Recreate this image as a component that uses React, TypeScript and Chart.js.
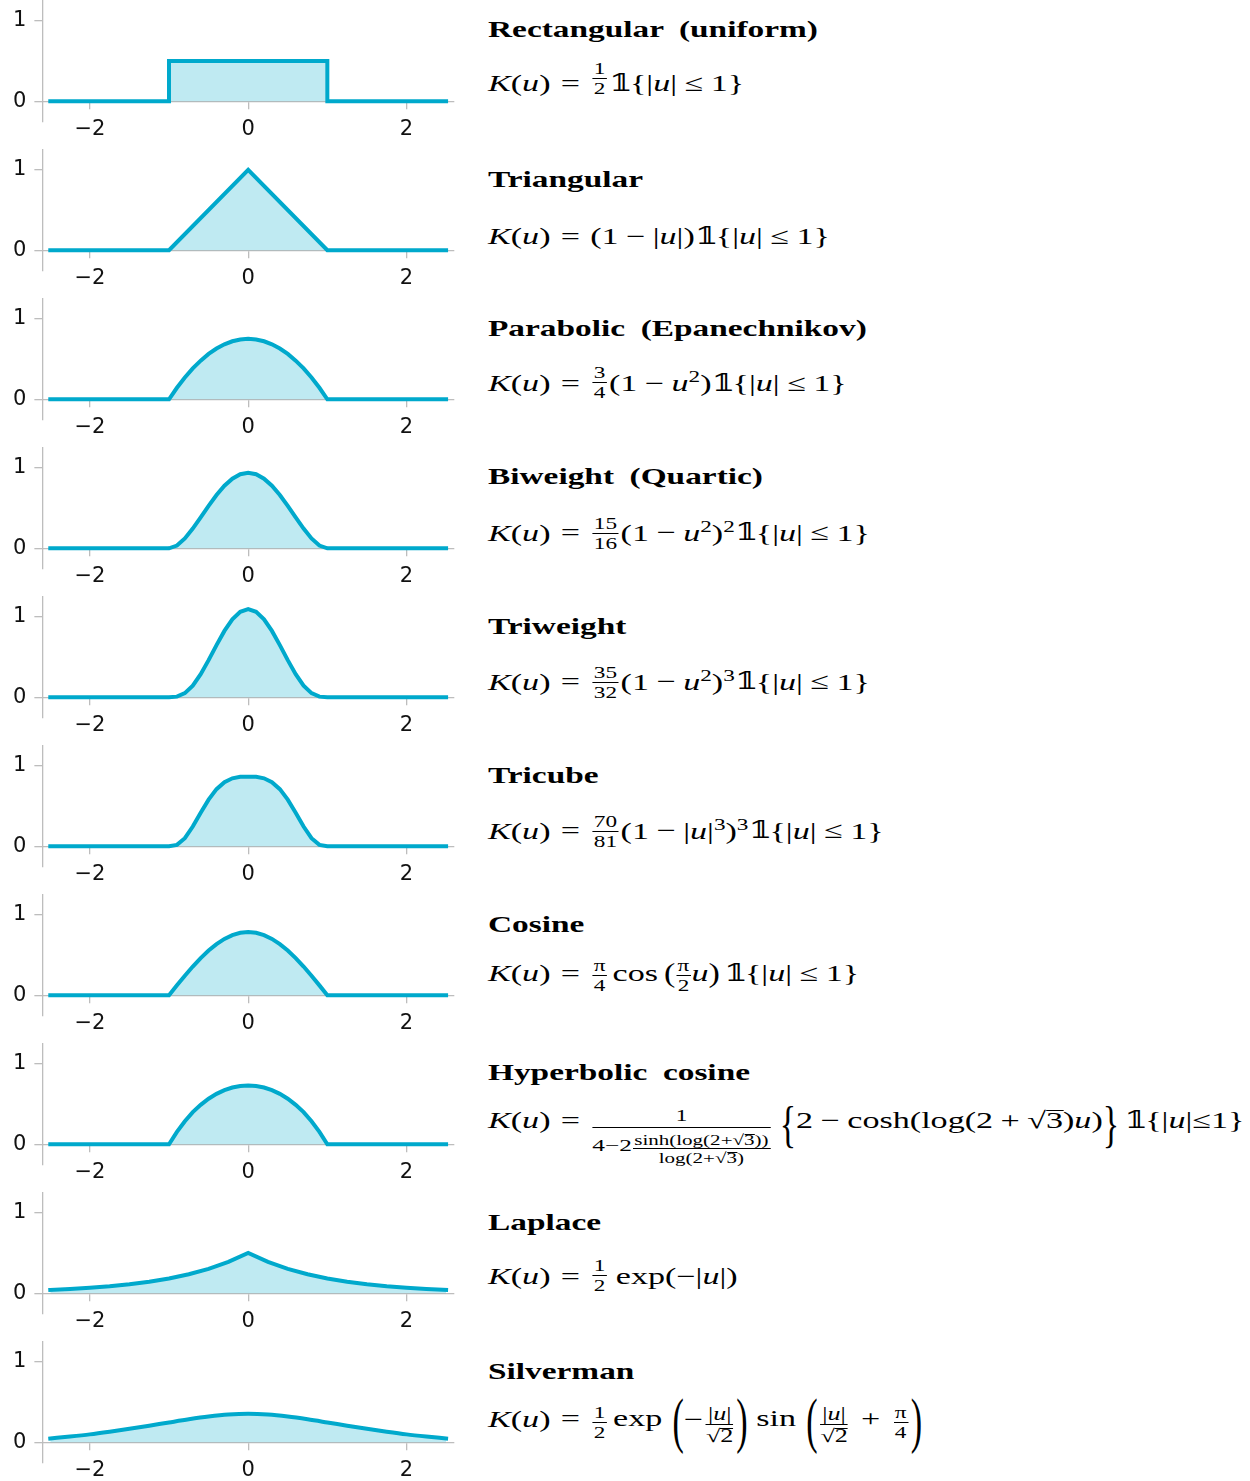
import React, { useEffect, useLayoutEffect, useRef } from "react";
import { Chart, registerables } from "chart.js";

Chart.register(...registerables);

// ---------------- data ----------------
const KERNEL_TITLES = [
  "Rectangular (uniform)",
  "Triangular",
  "Parabolic (Epanechnikov)",
  "Biweight (Quartic)",
  "Triweight",
  "Tricube",
  "Cosine",
  "Hyperbolic cosine",
  "Laplace",
  "Silverman",
];

const X_TICKS = [-2, 0, 2];
const Y_TICKS = [0, 1];
const X_MIN = -2.6;
const X_MAX = 2.6;
const Y_MIN = -0.25;
const Y_MAX = 1.25;

const RECT_U = [-2.5, -1, -1, 1, 1, 2.5];
const RECT_K = [0, 0, 0.5, 0.5, 0, 0];

const TRI_U = [-2.5, -1, 0, 1, 2.5];
const TRI_K = [0, 0, 1, 0, 0];

const COMPACT_U = [
  -2.5, -1, -0.9, -0.8, -0.7, -0.6, -0.5, -0.4, -0.3, -0.2, -0.1, 0, 0.1, 0.2, 0.3, 0.4, 0.5, 0.6, 0.7,
  0.8, 0.9, 1, 2.5,
];
const EPAN_K = [
  0, 0, 0.143, 0.27, 0.383, 0.48, 0.563, 0.63, 0.683, 0.72, 0.743, 0.75, 0.743, 0.72, 0.683, 0.63, 0.563,
  0.48, 0.383, 0.27, 0.143, 0, 0,
];
const BIWEIGHT_K = [
  0, 0, 0.034, 0.122, 0.244, 0.384, 0.527, 0.662, 0.776, 0.864, 0.919, 0.938, 0.919, 0.864, 0.776, 0.662,
  0.527, 0.384, 0.244, 0.122, 0.034, 0, 0,
];
const TRIWEIGHT_K = [
  0, 0, 0.008, 0.051, 0.145, 0.287, 0.461, 0.648, 0.824, 0.968, 1.061, 1.094, 1.061, 0.968, 0.824, 0.648,
  0.461, 0.287, 0.145, 0.051, 0.008, 0, 0,
];
const TRICUBE_K = [
  0, 0, 0.017, 0.1, 0.245, 0.417, 0.579, 0.709, 0.796, 0.844, 0.862, 0.864, 0.862, 0.844, 0.796, 0.709,
  0.579, 0.417, 0.245, 0.1, 0.017, 0, 0,
];
const COSINE_K = [
  0, 0, 0.123, 0.243, 0.357, 0.462, 0.555, 0.635, 0.7, 0.747, 0.776, 0.785, 0.776, 0.747, 0.7, 0.635, 0.555,
  0.462, 0.357, 0.243, 0.123, 0, 0,
];
const HYPCOSH_K = [
  0, 0, 0.154, 0.286, 0.399, 0.49, 0.566, 0.626, 0.672, 0.705, 0.724, 0.73, 0.724, 0.705, 0.672, 0.626,
  0.566, 0.49, 0.399, 0.286, 0.154, 0, 0,
];

const WIDE_U = [
  -2.5, -2.25, -2, -1.75, -1.5, -1.25, -1, -0.75, -0.5, -0.25, 0, 0.25, 0.5, 0.75, 1, 1.25, 1.5, 1.75, 2,
  2.25, 2.5,
];
const LAPLACE_K = [
  0.041, 0.053, 0.068, 0.087, 0.112, 0.143, 0.184, 0.236, 0.303, 0.389, 0.5, 0.389, 0.303, 0.236, 0.184,
  0.143, 0.112, 0.087, 0.068, 0.053, 0.041,
];
const SILVERMAN_K = [
  0.047, 0.071, 0.098, 0.131, 0.167, 0.206, 0.246, 0.285, 0.319, 0.344, 0.354, 0.344, 0.319, 0.285, 0.246,
  0.206, 0.167, 0.131, 0.098, 0.071, 0.047,
];

const PANEL_X = [RECT_U, TRI_U, COMPACT_U, COMPACT_U, COMPACT_U, COMPACT_U, COMPACT_U, COMPACT_U, WIDE_U, WIDE_U];
const PANEL_Y = [RECT_K, TRI_K, EPAN_K, BIWEIGHT_K, TRIWEIGHT_K, TRICUBE_K, COSINE_K, HYPCOSH_K, LAPLACE_K, SILVERMAN_K];
const PANEL_SMOOTH = [false, false, false, false, false, false, false, false, false, true];

// ---------------- layout / style ----------------
const LINE_COLOR = "#00a9cc";
const FILL_COLOR = "rgba(0, 170, 204, 0.25)";
const AXIS_COLOR = "#bdbdbd";
const AREA_LEFT = 42;
const AREA_W = 414;
const AREA_H = 121;
const FIRST_ZERO = 101;
const PANEL_STEP = 149;
const TEXT_LEFT = 488;
const TITLE_BASELINES = [36.5, 186.7, 335.7, 483.8, 633.7, 782.7, 931.7, 1080.3, 1229.7, 1378.7];
const FORMULA_BASELINES = [90.7, 244, 390.5, 540, 689, 838, 980.7, 1128.3, 1284, 1426];
const SERIF = '"Liberation Serif", "DejaVu Serif", "DejaVu Sans", serif';
const TEXT_SCALE = 1.45;
const MATH_SIZE = 23.5;
const SMALL = 16;

function KernelPlot({ index }: { index: number }) {
  const ref = useRef<HTMLCanvasElement>(null);
  useEffect(() => {
    const canvas = ref.current!;
    const xs = PANEL_X[index];
    const ys = PANEL_Y[index];
    const tickFont = { family: "DejaVu Sans", size: 21 };
    const chart = new Chart(canvas, {
      type: "line",
      data: {
        datasets: [
          {
            data: xs.map((x, i) => ({ x, y: ys[i] })),
            borderColor: LINE_COLOR,
            backgroundColor: FILL_COLOR,
            borderWidth: 4,
            fill: "origin",
            pointRadius: 0,
            tension: 0,
            cubicInterpolationMode: PANEL_SMOOTH[index] ? "monotone" : "default",
            borderCapStyle: "square",
            borderJoinStyle: "miter",
          },
        ],
      },
      options: {
        responsive: false,
        maintainAspectRatio: false,
        animation: false,
        events: [],
        layout: { padding: 0 },
        plugins: { legend: { display: false }, tooltip: { enabled: false } },
        scales: {
          x: {
            type: "linear",
            min: X_MIN,
            max: X_MAX,
            position: { y: 0 },
            grid: { drawOnChartArea: false, drawTicks: true, tickLength: 7, color: AXIS_COLOR, lineWidth: 1.3 },
            border: { display: true, color: AXIS_COLOR, width: 1.3 },
            ticks: {
              padding: 9,
              color: "#111",
              font: tickFont,
              maxRotation: 0,
              autoSkip: false,
              callback: (v: any) => (Number(v) < 0 ? "\u2212" : "") + Math.abs(Number(v)),
            },
            afterBuildTicks: (s: any) => {
              s.ticks = X_TICKS.map((v) => ({ value: v }));
            },
          },
          y: {
            type: "linear",
            min: Y_MIN,
            max: Y_MAX,
            position: "left",
            grid: { drawOnChartArea: false, drawTicks: true, tickLength: 8, color: AXIS_COLOR, lineWidth: 1.3 },
            border: { display: true, color: AXIS_COLOR, width: 1.3 },
            ticks: {
              padding: 8,
              color: "#111",
              font: tickFont,
              callback: (v: any) => String(v),
            },
            afterBuildTicks: (s: any) => {
              s.ticks = Y_TICKS.map((v) => ({ value: v }));
            },
          },
        },
      },
    } as any);
    const ca = chart.chartArea;
    const mL = ca.left;
    const mT = ca.top;
    const mR = chart.width - ca.right;
    const mB = chart.height - ca.bottom;
    chart.resize(Math.round(AREA_W + mL + mR), Math.round(AREA_H + mT + mB));
    const ca2 = chart.chartArea;
    const zero = FIRST_ZERO + PANEL_STEP * index;
    const areaTop = zero - (Y_MAX / (Y_MAX - Y_MIN)) * AREA_H;
    canvas.style.left = AREA_LEFT - ca2.left + "px";
    canvas.style.top = areaTop - ca2.top + "px";
    return () => chart.destroy();
  }, [index]);
  return <canvas ref={ref} width={520} height={200} style={{ position: "absolute", left: 0, top: 0 }} />;
}

function TextLine({ baseline, style, children }: any) {
  const ref = useRef<HTMLDivElement>(null);
  const mark = useRef<HTMLSpanElement>(null);
  useLayoutEffect(() => {
    const el = ref.current!;
    const mk = mark.current!;
    el.style.top = "0px";
    const off = mk.getBoundingClientRect().top - el.getBoundingClientRect().top;
    el.style.top = baseline - off + "px";
  }, [baseline]);
  return (
    <div
      ref={ref}
      style={{
        position: "absolute",
        left: TEXT_LEFT,
        top: 0,
        whiteSpace: "nowrap",
        transformOrigin: "0 0",
        transform: `scaleX(${TEXT_SCALE})`,
        color: "#000",
        fontFamily: SERIF,
        ...style,
      }}
    >
      <span ref={mark} style={{ display: "inline-block", width: 0, height: 0, verticalAlign: "baseline" }} />
      {children}
    </div>
  );
}

const I = ({ c }: any) => <i>{c}</i>;
const Op = ({ c, m = 0.22 }: any) => <span style={{ margin: `0 ${m}em` }}>{c}</span>;
const Sup = ({ c, raise = 8.5 }: any) => (
  <span style={{ fontSize: SMALL, verticalAlign: raise, lineHeight: 1 }}>{c}</span>
);
const Sqrt = ({ c }: any) => (
  <span>
    √
    <span style={{ display: "inline-block", borderTop: "1px solid #000", lineHeight: 0.78, paddingTop: 0 }}>{c}</span>
  </span>
);
function Frac({ n, d, fs = SMALL, raise = 12, nb = 1, dt = 2, mx = 1.5 }: any) {
  return (
    <span
      style={{
        display: "inline-flex",
        flexDirection: "column",
        alignItems: "stretch",
        fontSize: fs,
        lineHeight: 1,
        verticalAlign: raise,
        margin: `0 ${mx}px`,
      }}
    >
      <span style={{ textAlign: "center", padding: `0 1px ${nb}px` }}>{n}</span>
      <span style={{ textAlign: "center", borderTop: "1px solid #000", paddingTop: dt }}>{d}</span>
    </span>
  );
}
const Big = ({ c, s, dy = 6 }: any) => (
  <span
    style={{
      display: "inline-block",
      lineHeight: 1,
      transformOrigin: "50% 59%",
      transform: `translateY(${dy}px) scaleY(${s})`,
    }}
  >
    {c}
  </span>
);
const ONE = "\u{1D7D9}";
const Bb = () => <span style={{ marginRight: "-0.08em" }}>{ONE}</span>;
const Ind = () => (
  <>
    <Bb />
    {"{"}|<I c="u" />|<Op c="≤" m={0.22} />1{"}"}
  </>
);
const KU = () => (
  <>
    <I c="K" />(<I c="u" />)<Op c="=" m={0.3} />
  </>
);

function formulas() {
  return [
    <>
      <KU />
      <Frac n="1" d="2" raise={16.5} />
      <Ind />
    </>,
    <>
      <KU />
      (1<Op c="−" />|<I c="u" />|)
      <Ind />
    </>,
    <>
      <KU />
      <Frac n="3" d="4" raise={12.5} />
      (1<Op c="−" />
      <I c="u" />
      <Sup c="2" />)
      <Ind />
    </>,
    <>
      <KU />
      <Frac n="15" d="16" raise={11.5} />
      (1<Op c="−" />
      <I c="u" />
      <Sup c="2" />)<Sup c="2" />
      <Ind />
    </>,
    <>
      <KU />
      <Frac n="35" d="32" raise={11.5} />
      (1<Op c="−" />
      <I c="u" />
      <Sup c="2" />)<Sup c="3" />
      <Ind />
    </>,
    <>
      <KU />
      <Frac n="70" d="81" raise={11.5} />
      (1<Op c="−" />|<I c="u" />|<Sup c="3" />)<Sup c="3" />
      <Ind />
    </>,
    <>
      <KU />
      <Frac n="π" d="4" raise={9.5} />
      <span style={{ marginLeft: "0.1em", marginRight: "0.18em" }}>cos</span>
      <Big c="(" s={1.2} dy={0} />
      <Frac n="π" d="2" raise={9.5} mx={0.5} />
      <I c="u" />
      <Big c=")" s={1.2} dy={0} />
      <span style={{ marginLeft: "0.12em" }} />
      <Ind />
    </>,
    <>
      <KU />
      <Frac
        fs={SMALL}
        raise={7}
        nb={2.5}
        dt={5}
        n="1"
        d={
          <>
            <span style={{ fontSize: 17.5 }}>4−2</span>
            <Frac
              fs={14.5}
              raise={6}
              nb={1}
              dt={1.5}
              mx={0.5}
              n={
                <>
                  sinh(log(2+
                  <Sqrt c="3" />
                  ))
                </>
              }
              d={
                <>
                  log(2+
                  <Sqrt c="3" />)
                </>
              }
            />
          </>
        }
      />
      <span style={{ marginLeft: "0.2em" }} />
      <Big c="{" s={2.2} dy={7} />
      2<Op c="−" />
      cosh(log(2<Op c="+" />
      <Sqrt c="3" />)<I c="u" />)
      <Big c="}" s={2.2} dy={7} />
      <span style={{ marginLeft: "0.15em" }} />
      <Bb />
      {"{"}|<I c="u" />|≤1{"}"}
    </>,
    <>
      <KU />
      <Frac n="1" d="2" raise={13} />
      <span style={{ marginLeft: "0.2em" }}>exp(−|</span>
      <I c="u" />|)
    </>,
    <>
      <KU />
      <Frac n="1" d="2" raise={8} />
      <span style={{ marginLeft: "0.12em", marginRight: "0.3em" }}>exp</span>
      <Big c="(" s={2.6} dy={6.5} />
      −
      <Frac
        fs={18}
        mx={2}
        n={
          <>
            |<I c="u" />|
          </>
        }
        d={<Sqrt c="2" />}
        raise={6.5}
      />
      <Big c=")" s={2.6} dy={6.5} />
      <span style={{ marginLeft: "0.25em", marginRight: "0.3em" }}>sin</span>
      <Big c="(" s={2.6} dy={6.5} />
      <Frac
        fs={18}
        mx={2}
        n={
          <>
            |<I c="u" />|
          </>
        }
        d={<Sqrt c="2" />}
        raise={6.5}
      />
      <Op c="+" m={0.3} />
      <Frac n="π" d="4" raise={8} mx={2} />
      <Big c=")" s={2.6} dy={6.5} />
    </>,
  ];
}

export default function App() {
  const F = formulas();
  return (
    <div
      style={{
        position: "absolute",
        left: 0,
        top: 0,
        width: 1250,
        height: 1481,
        overflow: "hidden",
        background: "#fff",
      }}
    >
      {KERNEL_TITLES.map((_, i) => (
        <KernelPlot key={"p" + i} index={i} />
      ))}
      {KERNEL_TITLES.map((t, i) => (
        <TextLine key={"t" + i} baseline={TITLE_BASELINES[i]} style={{ fontSize: 23, fontWeight: "bold", wordSpacing: 5 }}>
          {t}
        </TextLine>
      ))}
      {F.map((f, i) => (
        <TextLine key={"f" + i} baseline={FORMULA_BASELINES[i]} style={{ fontSize: MATH_SIZE }}>
          {f}
        </TextLine>
      ))}
    </div>
  );
}
